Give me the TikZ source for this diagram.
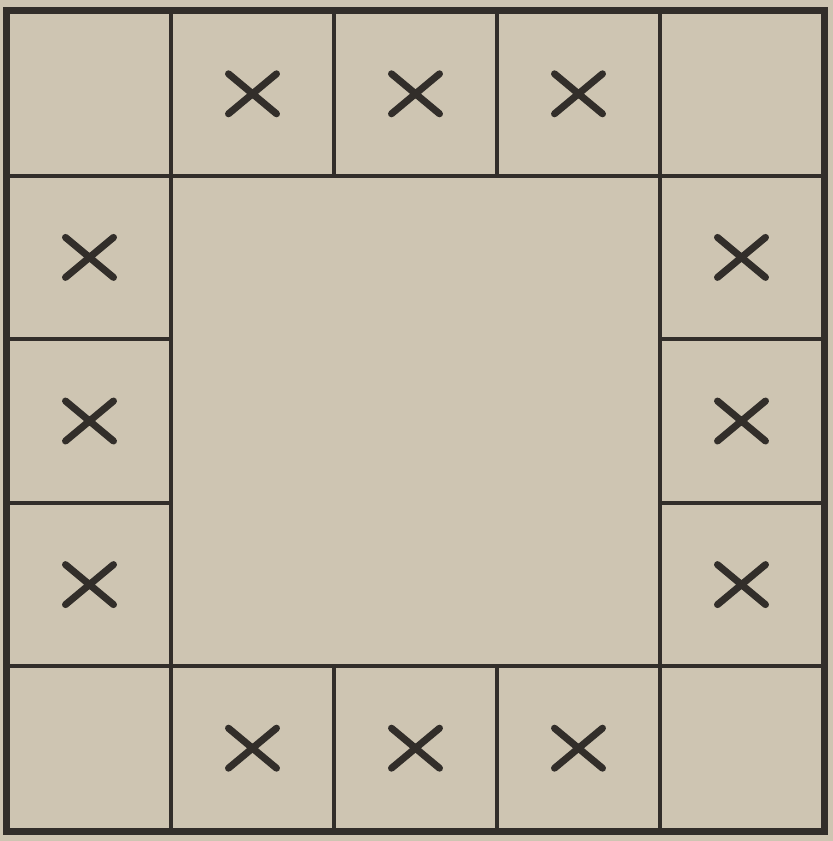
\documentclass[tikz,border=0pt]{standalone}
\usetikzlibrary{positioning,calc}
\definecolor{paper}{RGB}{206,197,178}
\definecolor{ink}{RGB}{50,46,42}

\begin{document}
\begin{tikzpicture}[
    x=0.3mm, y=-0.3mm,
    cell/.style={draw=ink, line width=1.2mm, minimum width=48.9mm, minimum height=49.08mm, inner sep=0pt},
    marked/.style={cell, path picture={
        \draw[ink, line width=2.1mm, line cap=round]
          ($(path picture bounding box.center)+(-24,-20)$) -- ++(48,40)
          ($(path picture bounding box.center)+(-24,20)$) -- ++(48,-40);}}
  ]
    \fill[paper] (0,0) rectangle (833,841);
    \useasboundingbox (0,0) rectangle (833,841);

    % corner cells, left empty
    \foreach \i/\j in {0/0,4/0,0/4,4/4}
      \node[cell] (c\i\j) at ({89.5+163*\i},{93.8+163.6*\j}) {};

    % edge cells with a cross
    \foreach \i/\j in {1/0,2/0,3/0,0/1,4/1,0/2,4/2,0/3,4/3,1/4,2/4,3/4}
      \node[marked] (c\i\j) at ({89.5+163*\i},{93.8+163.6*\j}) {};

    \node[cell, minimum width=146.7mm, minimum height=147.24mm] (middle) at ({89.5+326},{93.8+327.2}) {};

    \draw[ink, line width=1.6mm] (c00.north west) rectangle (c44.south east);
\end{tikzpicture}
\end{document}
